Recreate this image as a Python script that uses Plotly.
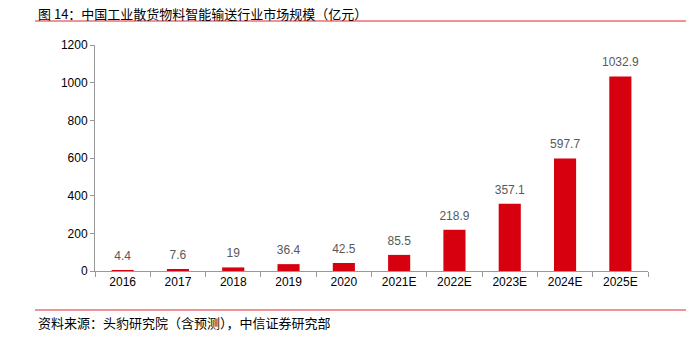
import plotly.graph_objects as go

categories = ["2016", "2017", "2018", "2019", "2020", "2021E", "2022E", "2023E", "2024E", "2025E"]
values = [4.4, 7.6, 19, 36.4, 42.5, 85.5, 218.9, 357.1, 597.7, 1032.9]
labels = ["4.4", "7.6", "19", "36.4", "42.5", "85.5", "218.9", "357.1", "597.7", "1032.9"]
y_ticks = [0, 200, 400, 600, 800, 1000, 1200]

title_text = "图 14：中国工业散货物料智能输送行业市场规模（亿元）"
source_text = "资料来源：头豹研究院（含预测），中信证券研究部"

W, H = 691, 347
L, R, T, B = 95, 43, 45, 76

fig = go.Figure()
fig.add_trace(go.Bar(
    x=categories, y=values,
    marker=dict(color="#D7000F", line=dict(width=0)),
    cliponaxis=False, hoverinfo="skip",
))
fig.add_trace(go.Scatter(
    x=categories, y=values, text=labels, mode="markers+text",
    textposition="top center",
    marker=dict(size=10, opacity=0),
    textfont=dict(color="#595959", size=12, family="Liberation Sans, Arial"),
    cliponaxis=False,
))

fig.update_layout(
    width=W, height=H,
    margin=dict(l=L, r=R, t=T, b=B),
    paper_bgcolor="white", plot_bgcolor="white",
    showlegend=False,
    bargap=0.6,
    font=dict(family="Liberation Sans, Arial", size=12, color="#000000"),
    xaxis=dict(
        type="category", range=[-0.5, len(categories) - 0.5],
        showline=True, linecolor="#999999", linewidth=1,
        ticks="outside", tickson="boundaries", ticklen=5, tickcolor="#999999",
        tickfont=dict(size=12, color="#000000"), tickangle=0,
        showgrid=False,
    ),
    yaxis=dict(
        range=[0, 1200], tickvals=y_ticks,
        showline=True, linecolor="#999999", linewidth=1,
        ticks="outside", ticklen=4, tickcolor="#999999",
        tickfont=dict(size=12, color="#000000"),
        showgrid=False, zeroline=False,
    ),
)

def px(x):
    return (x - L) / (W - L - R)

def py(y):
    return (H - B - y) / (H - T - B)

fig.add_annotation(
    x=px(36), y=py(13), xref="paper", yref="paper",
    text=title_text, showarrow=False, xanchor="left", yanchor="middle",
    font=dict(family="Noto Sans CJK SC", size=13, color="#000000"),
)
fig.add_annotation(
    x=px(36), y=py(322), xref="paper", yref="paper",
    text=source_text, showarrow=False, xanchor="left", yanchor="middle",
    font=dict(family="Noto Sans CJK SC", size=13, color="#000000"),
)
fig.add_shape(type="line", xref="paper", yref="paper",
              x0=px(35), x1=px(686), y0=py(21), y1=py(21),
              line=dict(color="#E8262D", width=1))
fig.add_shape(type="line", xref="paper", yref="paper",
              x0=px(35), x1=px(686), y0=py(310), y1=py(310),
              line=dict(color="#E8262D", width=1))

fig.write_html("out.html")
